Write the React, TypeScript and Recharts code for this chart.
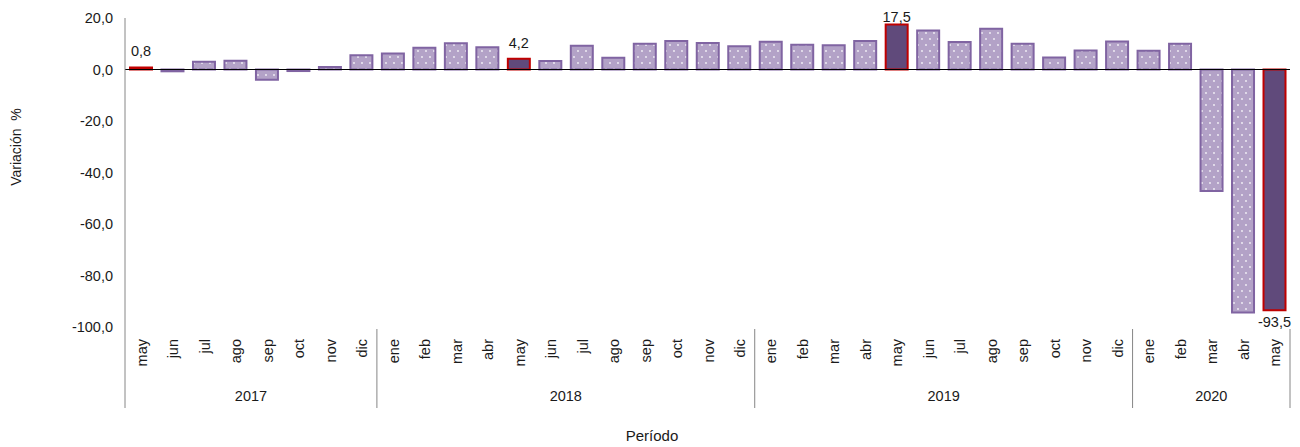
import { BarChart, Bar, XAxis, YAxis, Cell, LabelList, ReferenceLine } from "recharts";

const months = [
  "may", "jun", "jul", "ago", "sep", "oct", "nov", "dic",
  "ene", "feb", "mar", "abr", "may", "jun", "jul", "ago", "sep", "oct", "nov", "dic",
  "ene", "feb", "mar", "abr", "may", "jun", "jul", "ago", "sep", "oct", "nov", "dic",
  "ene", "feb", "mar", "abr", "may",
];
const years = ["2017", "2018", "2019", "2020"];
const monthsPerYear = [8, 12, 12, 5];
const values = [
  0.8, -0.7, 3.0, 3.4, -4.0, -0.6, 1.0, 5.5,
  6.2, 8.4, 10.2, 8.6, 4.2, 3.3, 9.2, 4.6, 10.0, 11.1, 10.3, 9.0,
  10.8, 9.6, 9.4, 11.1, 17.5, 15.1, 10.7, 15.8, 10.0, 4.7, 7.4, 10.9,
  7.3, 10.0, -47.2, -94.4, -93.5,
];
// months whose value is labelled and drawn in the dark colour
const highlighted = [0, 12, 24, 36];
const yTicks = [20, 0, -20, -40, -60, -80, -100];

const W = 1300;
const H = 447;
const PLOT_LEFT = 125;
const PLOT_RIGHT = 1290;
const PLOT_TOP = 18;
const PLOT_BOTTOM = 327;
const BW = (PLOT_RIGHT - PLOT_LEFT) / months.length;
const FONT = "'Liberation Sans', Arial, sans-serif";
const INK = "#1a1a1a";

const fmt = (v: number) => v.toFixed(1).replace(".", ",");

const data = months.map((m, i) => ({
  m,
  v: values[i],
  hl: highlighted.includes(i),
  lbl: highlighted.includes(i) ? values[i] : null,
}));

// first index of every year group
const starts = monthsPerYear.map((_, g) => monthsPerYear.slice(0, g).reduce((a, b) => a + b, 0));

function MonthTick(props: any) {
  const { x, payload } = props;
  const i = props.index ?? payload.index;
  const g = starts.filter((s) => s <= i).length - 1;
  const start = starts[g];
  const n = monthsPerYear[g];
  const mid = start + Math.floor((n - 1) / 2);
  const last = months.length - 1;
  return (
    <g>
      <text
        transform={`translate(${x + 1},339) rotate(-90)`}
        textAnchor="end"
        dominantBaseline="central"
        fontSize={14.5}
        fontFamily={FONT}
        fill={INK}
      >
        {payload.value}
      </text>
      {i === mid && (
        <text
          x={x + ((n - 1) / 2 - (i - start)) * BW}
          y={401}
          textAnchor="middle"
          fontSize={14.5}
          fontFamily={FONT}
          fill={INK}
        >
          {years[g]}
        </text>
      )}
      {i === start && (
        <line x1={x - BW / 2} x2={x - BW / 2} y1={i === 0 ? PLOT_BOTTOM : 329} y2={408} stroke="#868686" />
      )}
      {i === last && <line x1={x + BW / 2} x2={x + BW / 2} y1={329} y2={408} stroke="#868686" />}
    </g>
  );
}

function ValueLabel(props: any) {
  const { x, y, width, height, value } = props;
  if (value === null || value === undefined) return null;
  const top = Math.min(y, y + height);
  const bottom = Math.max(y, y + height);
  // keep labels inside the chart area, like the spreadsheet does
  const above = Math.max(top - 11, 22);
  return (
    <text
      x={x + width / 2}
      y={value >= 0 ? above : bottom + 17}
      textAnchor="middle"
      fontSize={14.5}
      fontFamily={FONT}
      fill={INK}
    >
      {fmt(value)}
    </text>
  );
}

export default function App() {
  return (
    <div style={{ position: "absolute", left: 0, top: 0, width: W, height: H }}>
      <BarChart
        width={W}
        height={H}
        data={data}
        margin={{ top: PLOT_TOP, right: W - PLOT_RIGHT, bottom: 0, left: 0 }}
      >
        <defs>
          <pattern id="dots" width={8} height={12} patternUnits="userSpaceOnUse">
            <rect width={8} height={12} fill="#b3a2c7" />
            <circle cx={2} cy={3} r={0.9} fill="#ffffff" fillOpacity={0.85} />
            <circle cx={6} cy={9} r={0.9} fill="#ffffff" fillOpacity={0.85} />
          </pattern>
        </defs>
        <XAxis
          dataKey="m"
          interval={0}
          height={H - PLOT_BOTTOM}
          axisLine={false}
          tickLine={false}
          tick={<MonthTick />}
          label={{
            content: () => (
              <text x={652} y={441} textAnchor="middle" fontSize={15} fontFamily={FONT} fill={INK}>
                Período
              </text>
            ),
          }}
        />
        <YAxis
          width={PLOT_LEFT}
          domain={[-100, 20]}
          ticks={yTicks}
          interval={0}
          tickLine={false}
          tickMargin={6}
          axisLine={{ stroke: "#868686" }}
          tickFormatter={fmt}
          tick={{ fontSize: 14.5, fontFamily: FONT, fill: INK }}
          label={{
            content: () => (
              <text
                transform="translate(21,147) rotate(-90)"
                textAnchor="middle"
                fontSize={14}
                fontFamily={FONT}
                fill={INK}
                xmlSpace="preserve"
              >
                Variación  %
              </text>
            ),
          }}
        />
        <ReferenceLine y={0} stroke="#000000" strokeWidth={1} />
        <Bar dataKey="v" barSize={22} isAnimationActive={false}>
          {data.map((d, i) => (
            <Cell
              key={i}
              fill={d.hl ? "#604a7b" : "url(#dots)"}
              stroke={d.hl ? "#c00000" : "#8064a2"}
              strokeWidth={2}
            />
          ))}
          <LabelList dataKey="lbl" content={<ValueLabel />} />
        </Bar>
      </BarChart>
    </div>
  );
}
